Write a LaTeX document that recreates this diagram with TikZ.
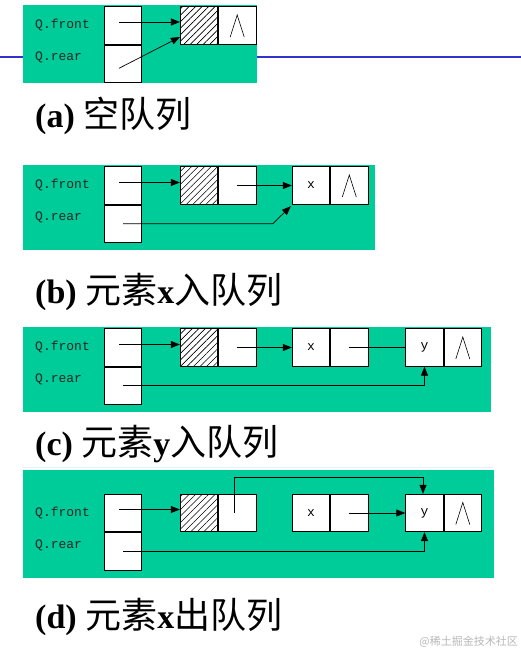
\documentclass[tikz,border=0pt]{standalone}
\usepackage{fontspec}
\setmainfont{Liberation Serif}
\setmonofont{Liberation Mono}
\newfontfamily\cjk{Noto Sans CJK SC}
\usetikzlibrary{positioning}
\usetikzlibrary{arrows.meta, patterns.meta}

\definecolor{panelgreen}{RGB}{0,204,153}
\definecolor{slideblue}{RGB}{51,51,204}
\definecolor{faintline}{RGB}{226,244,250}

\tikzset{
  cell/.style={draw, fill=white, line width=0.8pt, minimum width=37.5pt, minimum height=37.5pt, inner sep=0pt, font=\ttfamily\fontsize{13}{13}\selectfont},
  hatched/.style={cell, preaction={fill=white}, pattern={Lines[angle=45,distance=4.6pt,line width=0.6pt]}},
  ptr/.style={line width=0.7pt, -{Triangle[length=9pt,width=7pt]}},
  link/.style={line width=0.7pt},
  qlabel/.style={anchor=west, inner sep=0pt, font=\ttfamily\fontsize{13}{13}\selectfont, text=black!85},
  caption/.style={anchor=base west, inner sep=0pt, font=\bfseries\fontsize{34}{40}\selectfont},
}
\newcommand{\nullmark}[1]{\draw[line width=0.6pt] ([shift={(-7pt,-11.5pt)}]#1.center) -- ([yshift=10.5pt]#1.center) -- ([shift={(7pt,-11.5pt)}]#1.center);}
\newcommand{\zh}[1]{{\cjk\mdseries\fontsize{36}{40}\selectfont #1}}

\begin{document}
\begin{tikzpicture}[x=1pt,y=-1pt]
\fill[white] (0,0) rectangle (521,651);
\useasboundingbox (0,0) rectangle (521,651);
\draw[slideblue,line width=2.5pt] (0,57) -- (521,57);

% (a)
\fill[panelgreen] (23,5) rectangle (257,83);
\node[qlabel] (qfa) at (35,25.5) {Q.front};
\node[qlabel] (qra) at (35,57.5) {Q.rear};
\node[cell] (fa) at (123,25.5) {};
\node[cell,below=0pt of fa] (ra) {};
\node[hatched] (ha) at (199,25.5) {};
\node[cell,right=0pt of ha] (hna) {};
\draw[ptr] ([shift={(-4pt,3.5pt)}]fa.center) -- ([yshift=3.5pt]ha.west);
\draw[ptr] ([shift={(-4pt,-4.5pt)}]ra.center) -- ([yshift=-11.5pt]ha.west);
\nullmark{hna}
\node[caption] (capa) at (35,127) {(a) \zh{空队列}};

% (b)
\fill[panelgreen] (23,165) rectangle (375,250);
\node[qlabel] (qfb) at (35,185.5) {Q.front};
\node[qlabel] (qrb) at (35,217.5) {Q.rear};
\node[cell] (fb) at (123,185.5) {};
\node[cell,below=0pt of fb] (rb) {};
\node[hatched] (hb) at (199,185.5) {};
\node[cell,right=0pt of hb] (hnb) {};
\node[cell] (xb) at (311,185.5) {x};
\node[cell,right=0pt of xb] (xnb) {};
\draw[ptr] ([shift={(-4pt,3pt)}]fb.center) -- ([yshift=3pt]hb.west);
\draw[ptr] (hnb.center) -- (xb.west);
\draw[ptr] (rb.center) -- ([shift={(-19pt,-19pt)}]xb.south west) -- ([shift={(-1pt,-1.5pt)}]xb.south west);
\nullmark{xnb}
\node[caption] (capb) at (35,303) {(b) \zh{元素}x\zh{入队列}};

% (c)
\fill[panelgreen] (23,327) rectangle (491,412);
\node[qlabel] (qfc) at (35,347.5) {Q.front};
\node[qlabel] (qrc) at (35,379.5) {Q.rear};
\node[cell] (fc) at (123,347.5) {};
\node[cell,below=0pt of fc] (rc) {};
\node[hatched] (hc) at (199,347.5) {};
\node[cell,right=0pt of hc] (hnc) {};
\node[cell] (xc) at (311,347.5) {x};
\node[cell,right=0pt of xc] (xnc) {};
\node[cell] (yc) at (424.5,347.5) {y};
\node[cell,right=0pt of yc] (ync) {};
\draw[ptr] ([shift={(-4pt,3pt)}]fc.center) -- ([yshift=3pt]hc.west);
\draw[ptr] (hnc.center) -- (xc.west);
\draw[link] (xnc.center) -- (yc.west);
\draw[ptr] (rc.center) -| (yc.south);
\nullmark{ync}
\node[caption] (capc) at (35,455) {(c) \zh{元素}y\zh{入队列}};
\draw[faintline,line width=1pt] (23,467) -- (493,467);

% (d)
\fill[panelgreen] (23,470) rectangle (494,578);
\node[qlabel] (qfd) at (35,513) {Q.front};
\node[qlabel] (qrd) at (35,545) {Q.rear};
\node[cell] (fd) at (123,513) {};
\node[cell,below=0pt of fd] (rd) {};
\node[hatched] (hd) at (199,513) {};
\node[cell,right=0pt of hd] (hnd) {};
\node[cell] (xd) at (311,513) {x};
\node[cell,right=0pt of xd] (xnd) {};
\node[cell] (yd) at (424.5,513) {y};
\node[cell,right=0pt of yd] (ynd) {};
\draw[ptr] ([shift={(-4pt,3.5pt)}]fd.center) -- ([yshift=3.5pt]hd.west);
\draw[ptr] ([xshift=-2.5pt]hnd.center) -- ++(0,-36) -| ([xshift=-1.5pt]yd.north);
\draw[ptr] (xnd.center) -- (yd.west);
\draw[ptr] (rd.center) -| (yd.south);
\nullmark{ynd}
\node[caption] (capd) at (35,628) {(d) \zh{元素}x\zh{出队列}};

\node[anchor=base east,inner sep=0pt,text=black!28,font=\cjk\fontsize{11}{11}\selectfont] (mark) at (518,645) {@稀土掘金技术社区};
\end{tikzpicture}
\end{document}
